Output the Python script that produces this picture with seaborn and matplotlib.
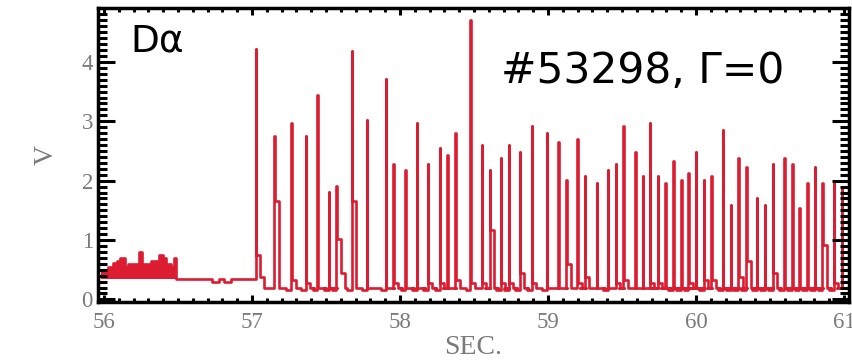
import matplotlib
matplotlib.use("Agg")
import numpy as np
import pandas as pd
import seaborn as sns
import matplotlib.pyplot as plt
from matplotlib.ticker import MultipleLocator

# ---------------------------------------------------------------- data ----
# L-mode phase: step edges (s) and upper envelope of the noisy D-alpha signal (V)
lmode_edges = [55.98, 56.03, 56.06, 56.09, 56.11, 56.14, 56.16, 56.24,
               56.26, 56.32, 56.37, 56.40, 56.42, 56.45, 56.47, 56.49]
lmode_top = [0.50, 0.55, 0.61, 0.65, 0.70, 0.55, 0.60, 0.80,
             0.60, 0.65, 0.75, 0.70, 0.60, 0.55, 0.70]
lmode_floor = 0.34

# quiet phase before the first ELM
quiet_level = 0.35
quiet_dip_start = [56.73, 56.81]
quiet_dip_end = [56.78, 56.86]
quiet_dip_level = 0.30

# ELM phase: burst times (s), peak, post-burst shoulder, tail and pre-burst minimum (V)
elm_base = 0.20
elm_time = [57.027, 57.155, 57.264, 57.365, 57.443, 57.520, 57.571,
            57.676, 57.777, 57.905, 57.959, 58.037, 58.115, 58.189, 58.270,
            58.321, 58.372, 58.476, 58.554, 58.608, 58.682, 58.736, 58.811, 58.892,
            58.993, 59.071, 59.122, 59.199, 59.250, 59.331, 59.405, 59.459, 59.510,
            59.588, 59.642, 59.689, 59.743, 59.794, 59.845, 59.899, 59.949, 60.000,
            60.054, 60.105, 60.182, 60.236, 60.284, 60.338, 60.412, 60.466, 60.520,
            60.595, 60.649, 60.699, 60.750, 60.804, 60.855, 60.932, 60.986]
elm_peak = [4.22, 2.75, 2.97, 2.75, 3.44, 1.81, 1.91,
            4.18, 3.02, 3.71, 2.28, 2.18, 2.97, 2.28, 2.55,
            2.43, 2.80, 4.70, 2.60, 2.18, 2.38, 2.60, 2.49, 2.92,
            2.80, 2.65, 2.01, 2.70, 2.08, 1.96, 2.18, 2.28, 2.92,
            2.49, 2.08, 2.97, 2.08, 1.96, 2.33, 2.01, 2.13, 2.49,
            2.01, 2.08, 2.86, 1.59, 2.38, 2.23, 1.71, 1.59, 2.28,
            2.38, 2.28, 1.54, 1.96, 2.23, 1.96, 1.96, 1.87]
elm_shoulder = [0.75, 1.65, 0.33, 0.27, 0.20, 0.20, 1.02,
                1.65, 0.20, 0.20, 0.27, 0.20, 0.20, 0.27, 0.27,
                0.20, 0.33, 0.27, 0.27, 1.17, 0.27, 0.27, 0.44, 0.27,
                0.20, 0.20, 0.60, 0.27, 0.38, 0.20, 0.20, 0.27, 0.33,
                0.20, 0.20, 0.27, 0.27, 0.20, 0.20, 0.20, 0.27, 0.20,
                0.33, 0.33, 0.20, 0.20, 0.38, 0.65, 0.20, 0.20, 0.45,
                0.20, 0.20, 0.20, 0.20, 0.20, 0.92, 0.27, 0.20]
elm_tail = [0.38, 0.20, 0.20, 0.20, 0.20, 0.20, 0.44] + [0.20] * 52
elm_pre_min = [0.35, 0.20, 0.15, 0.15, 0.15, 0.15, 0.15,
               0.15, 0.15, 0.15, 0.20, 0.15, 0.15, 0.15, 0.15,
               0.20, 0.20, 0.15, 0.20, 0.20, 0.15, 0.15, 0.15, 0.15,
               0.15, 0.20, 0.20, 0.20, 0.20, 0.20, 0.15, 0.20, 0.20,
               0.20, 0.20, 0.20, 0.20, 0.20, 0.15, 0.15, 0.15, 0.20,
               0.15, 0.20, 0.15, 0.15, 0.15, 0.15, 0.15, 0.15, 0.15,
               0.15, 0.15, 0.15, 0.15, 0.15, 0.15, 0.15, 0.20]

xticks = [56, 57, 58, 59, 60, 61]
yticks = [0, 1, 2, 3, 4]

# -------------------------------------------------------------- trace ----
BURST_W = 0.006     # width of a burst (s)
DIP_W = 0.03        # pre-burst dip duration (s)
DECAY_W = 0.027     # duration of each decay step (s)

xs, ys = [], []
for a, b, v in zip(lmode_edges[:-1], lmode_edges[1:], lmode_top):
    xs += [a, b]
    ys += [v, v]
xs.append(lmode_edges[-1])
ys.append(quiet_level)
for s, e in zip(quiet_dip_start, quiet_dip_end):
    xs += [s, s, e, e]
    ys += [quiet_level, quiet_dip_level, quiet_dip_level, quiet_level]

level = quiet_level
for t, h, sh, tl, pm in zip(elm_time, elm_peak, elm_shoulder, elm_tail, elm_pre_min):
    t0, t1 = t - BURST_W / 2, t + BURST_W / 2
    xs += [t0 - DIP_W, t0 - DIP_W, t0, t0, t1, t1,
           t1 + DECAY_W, t1 + DECAY_W, t1 + 2 * DECAY_W, t1 + 2 * DECAY_W]
    ys += [level, pm, pm, h, h, sh, sh, tl, tl, elm_base]
    level = elm_base
xs.append(61.1)
ys.append(elm_base)

trace = pd.DataFrame({"t": xs, "v": ys})

# L-mode band (filled between floor and envelope)
band_x = np.repeat(lmode_edges, 2)[1:-1]
band_y = np.repeat(lmode_top, 2)

# ---------------------------------------------------------------- plot ----
RED = "#dc1c31"
GREY = "#7a7a7a"

sns.set_theme(style="ticks")
plt.rcParams["font.family"] = ["Liberation Serif", "DejaVu Serif"]

fig = plt.figure(figsize=(8.52, 3.63), dpi=100)
ax = fig.add_axes([0.1156, 0.168, 0.8803, 0.8086])

ax.fill_between(band_x, lmode_floor, band_y, color=RED, lw=0)
sns.lineplot(data=trace, x="t", y="v", sort=False, estimator=None,
             color=RED, lw=1.9, ax=ax)

ax.set_xlim(55.963, 61.03)
ax.set_ylim(-0.044, 4.90)
ax.set_xticks(xticks)
ax.set_yticks(yticks)
ax.xaxis.set_minor_locator(MultipleLocator(0.1))
ax.yaxis.set_minor_locator(MultipleLocator(0.1))
ax.set_axisbelow(False)

ax.tick_params(which="both", direction="in", top=True, right=True,
               width=2.2, color="black", labelsize=16.5, labelcolor=GREY)
ax.tick_params(axis="y", which="major", length=12.2, pad=4)
ax.tick_params(axis="y", which="minor", length=6.5)
ax.tick_params(axis="x", which="major", length=5, pad=7)
ax.tick_params(axis="x", which="minor", length=3)

for sp in ax.spines.values():
    sp.set_linewidth(2.5)
    sp.set_color("black")

ax.set_xlabel("SEC.", fontsize=20, color=GREY)
ax.set_ylabel("V", fontsize=20, color=GREY)
ax.xaxis.set_label_coords(0.5, -0.114)
ax.yaxis.set_label_coords(-0.0527, 0.5)

fig.text(130 / 852, 1 - 52 / 363, "Dα", fontsize=27, family="DejaVu Sans",
         va="baseline", ha="left", color="black")
fig.text(501 / 852, 1 - 83 / 363, "#53298, Γ=0", fontsize=30.5,
         family="DejaVu Sans", va="baseline", ha="left", color="black")

fig.savefig("out.png", dpi=100)
